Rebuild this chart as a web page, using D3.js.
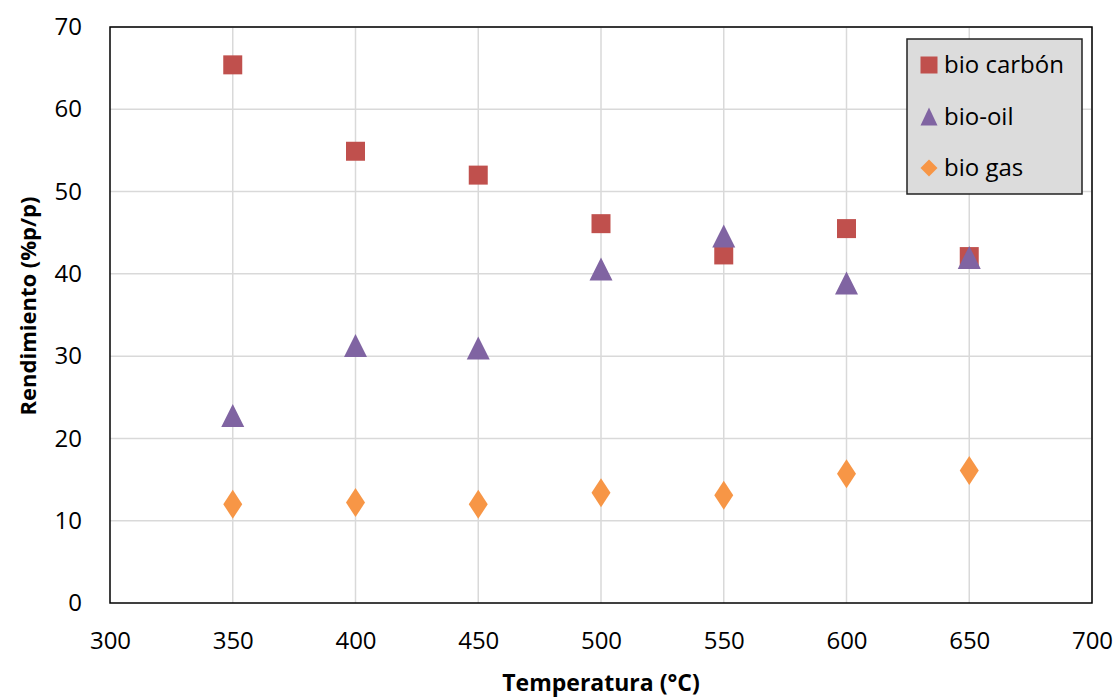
<!DOCTYPE html>
<html>
<head>
<meta charset="utf-8">
<script src="https://cdn.jsdelivr.net/npm/d3@7"></script>
<style>
  body { margin: 0; background: #fff; }
  svg text { font-family: "Open Sans", sans-serif; fill: #000; }
</style>
</head>
<body>
<div id="chart"></div>
<script>
const temps = [350, 400, 450, 500, 550, 600, 650];
const bioCarbon = [65.4, 54.9, 52.0, 46.1, 42.3, 45.5, 42.1];
const bioOil = [22.8, 31.3, 31.0, 40.6, 44.6, 38.9, 42.0];
const bioGas = [12.0, 12.2, 12.0, 13.4, 13.1, 15.7, 16.1];
const xTicks = [300, 350, 400, 450, 500, 550, 600, 650, 700];
const yTicks = [0, 10, 20, 30, 40, 50, 60, 70];

const series = [
  {name: "bio carbón", values: bioCarbon, color: "#C0504D", shape: "square"},
  {name: "bio-oil", values: bioOil, color: "#8064A2", shape: "triangle"},
  {name: "bio gas", values: bioGas, color: "#F79646", shape: "diamond"}
];

const width = 1118, height = 700;
const plotL = 110, plotR = 1092, plotT = 27, plotB = 603;

var svg = d3.select("#chart")
	.append("svg")
	.attr("width", width)
	.attr("height", height);

var x = d3.scaleLinear().domain([300, 700]).range([plotL, plotR]);
var y = d3.scaleLinear().domain([0, 70]).range([plotB, plotT]);

// grid
svg.append("g")
	.selectAll("line")
	.data(xTicks.slice(1))
	.enter()
	.append("line")
	.attr("x1", d => x(d)).attr("x2", d => x(d))
	.attr("y1", plotT).attr("y2", plotB)
	.attr("stroke", "#d9d9d9").attr("stroke-width", 1.5);

svg.append("g")
	.selectAll("line")
	.data(yTicks.slice(1))
	.enter()
	.append("line")
	.attr("x1", plotL).attr("x2", plotR)
	.attr("y1", d => y(d)).attr("y2", d => y(d))
	.attr("stroke", "#d9d9d9").attr("stroke-width", 1.5);

// axes labels
var xAxis = svg.append("g")
	.attr("transform", `translate(0, ${plotB})`)
	.call(d3.axisBottom(x).tickValues(xTicks).tickSize(0).tickPadding(29));
xAxis.select(".domain").remove();
xAxis.selectAll("text").style("font-size", "24px");

var yAxis = svg.append("g")
	.attr("transform", `translate(${plotL}, 0)`)
	.call(d3.axisLeft(y).tickValues(yTicks).tickSize(0).tickPadding(28));
yAxis.select(".domain").remove();
yAxis.selectAll("text").style("font-size", "24px");

// plot border
svg.append("rect")
	.attr("x", plotL).attr("y", plotT)
	.attr("width", plotR - plotL).attr("height", plotB - plotT)
	.attr("fill", "none").attr("stroke", "#000").attr("stroke-width", 1.5);

// marker shapes (w, h = bounding box)
function shapePath(shape, w, h) {
	var p = d3.path();
	if (shape === "square") {
		p.rect(-w / 2, -h / 2, w, h);
	} else if (shape === "triangle") {
		p.moveTo(0, -h / 2); p.lineTo(w / 2, h / 2); p.lineTo(-w / 2, h / 2); p.closePath();
	} else {
		p.moveTo(0, -h / 2); p.lineTo(w / 2, 0); p.lineTo(0, h / 2); p.lineTo(-w / 2, 0); p.closePath();
	}
	return p.toString();
}

const markSize = {square: [19, 19], triangle: [23, 23], diamond: [19, 29]};
const legendSize = {square: [17, 17], triangle: [17, 18], diamond: [17, 17]};

series.forEach(s => {
	svg.append("g")
		.selectAll("path")
		.data(temps.map((t, i) => ({t: t, v: s.values[i]})))
		.enter()
		.append("path")
		.attr("d", shapePath(s.shape, markSize[s.shape][0], markSize[s.shape][1]))
		.attr("transform", d => `translate(${x(d.t)}, ${y(d.v)})`)
		.attr("fill", s.color);
});

// legend
var lg = svg.append("g");
lg.append("rect")
	.attr("x", 907).attr("y", 39)
	.attr("width", 175).attr("height", 155)
	.attr("fill", "#dcdcdc").attr("stroke", "#222").attr("stroke-width", 1.5);

series.forEach((s, i) => {
	var cy = 65 + i * 51.5;
	lg.append("path")
		.attr("d", shapePath(s.shape, legendSize[s.shape][0], legendSize[s.shape][1]))
		.attr("transform", `translate(929, ${cy})`)
		.attr("fill", s.color);
	lg.append("text")
		.attr("x", 944).attr("y", cy + 8)
		.style("font-size", "24px")
		.text(s.name);
});

// titles
svg.append("text")
	.attr("x", 601).attr("y", 691)
	.attr("text-anchor", "middle")
	.style("font-size", "23px").style("font-weight", "bold")
	.text("Temperatura (°C)");

svg.append("text")
	.attr("transform", "translate(36, 306) rotate(-90)")
	.attr("text-anchor", "middle")
	.style("font-size", "22px").style("font-weight", "bold")
	.text("Rendimiento (%p/p)");
</script>
</body>
</html>
